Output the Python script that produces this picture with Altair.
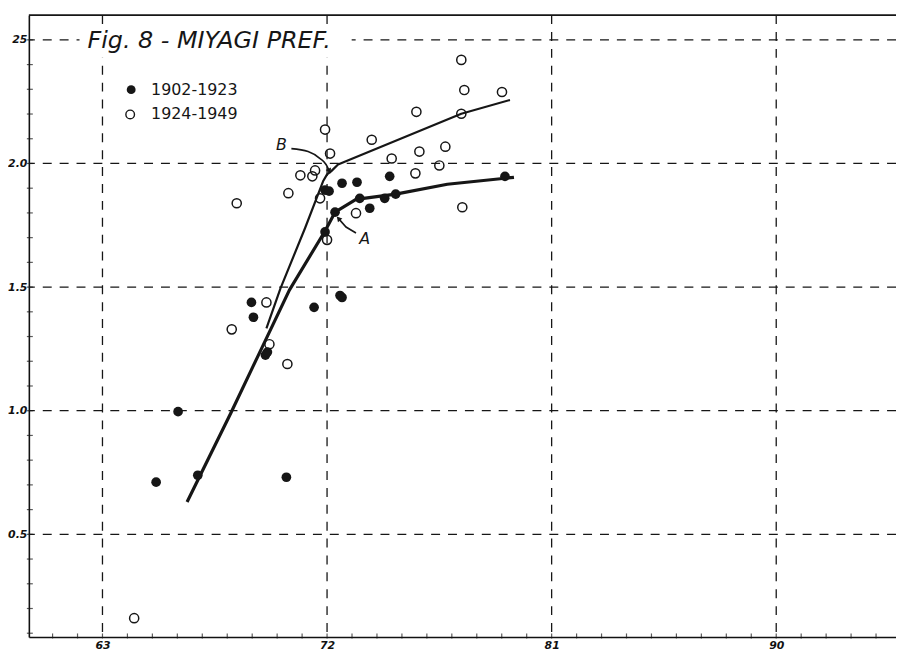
import altair as alt
import pandas as pd

# ---- data ----
filled_x = [65.15, 66.03, 66.82, 70.37, 68.97, 69.05, 69.53, 69.61, 71.48, 72.52, 72.60,
            71.92, 72.32, 71.92, 72.08, 72.60, 73.20, 74.51, 73.31, 74.31, 74.75, 73.71, 79.13]
filled_y = [0.711, 0.996, 0.739, 0.731, 1.438, 1.378, 1.225, 1.237, 1.418, 1.466, 1.458,
            1.723, 1.803, 1.892, 1.888, 1.920, 1.924, 1.948, 1.859, 1.859, 1.876, 1.819, 1.948]

open_x = [64.27, 68.18, 68.38, 69.57, 69.69, 70.41, 70.45, 70.93, 71.41, 71.52, 71.72, 71.92,
          72.12, 72.00, 73.16, 73.79, 74.59, 75.58, 75.70, 75.54, 76.50, 76.74, 77.38, 77.50,
          77.38, 77.42, 79.01]
open_y = [0.161, 1.329, 1.839, 1.438, 1.269, 1.189, 1.880, 1.952, 1.948, 1.972, 1.859, 2.137,
          2.040, 1.691, 1.799, 2.096, 2.020, 2.209, 2.048, 1.960, 1.992, 2.068, 2.419, 2.297,
          2.201, 1.823, 2.289]

lineA_x = [66.39, 68.14, 70.49, 71.92, 72.32, 73.16, 74.75, 76.82, 79.49]
lineA_y = [0.631, 0.990, 1.488, 1.727, 1.803, 1.855, 1.876, 1.916, 1.944]

lineB_x = [69.57, 70.13, 71.12, 71.84, 72.00, 72.16, 72.44, 77.38, 79.33]
lineB_y = [1.333, 1.494, 1.739, 1.928, 1.956, 1.968, 1.996, 2.201, 2.257]

arrowB_x = [70.57, 71.24, 71.72, 71.96, 72.08]
arrowB_y = [2.060, 2.048, 2.020, 1.996, 1.972]
arrowA_x = [73.16, 72.76, 72.48]
arrowA_y = [1.719, 1.743, 1.775]

x_grid = [63, 72, 81, 90]
y_grid = [0.5, 1.0, 1.5, 2.0, 2.5]
x_minor = list(range(61, 95))
y_minor = [round(0.1 * i, 1) for i in range(1, 26)]

series_labels = ["1902-1923", "1924-1949"]
title_text = "Fig. 8 - MIYAGI  PREF."

# ---- scales / axes ----
W, H = 873, 626
xs = alt.Scale(domain=[60.05, 94.8], nice=False, zero=False)
ys = alt.Scale(domain=[0.085, 2.6], nice=False, zero=False)
lab = dict(labelFont="DejaVu Sans", labelFontSize=11, labelFontStyle="italic",
           labelFontWeight="bold", labelColor="#111")
x_axis = alt.Axis(values=x_grid, grid=False, ticks=False, domain=True, domainColor="#111",
                  domainWidth=1.6, labelPadding=3, title=None, **lab)
y_axis = alt.Axis(values=y_grid, grid=False, ticks=False, domain=True, domainColor="#111",
                  domainWidth=1.6, labelPadding=2, title=None,
                  labelExpr="datum.value == 2.5 ? '25' : format(datum.value, '.1f')", **lab)


def X(f):
    return alt.X(f"{f}:Q", scale=xs, axis=x_axis, title=None)


def Y(f):
    return alt.Y(f"{f}:Q", scale=ys, axis=y_axis, title=None)


one = pd.DataFrame({"k": [0]})
dash = [9, 8]
ink = "#161616"

vgrid = alt.Chart(pd.DataFrame({"gx": x_grid})).mark_rule(
    strokeDash=dash, color=ink, strokeWidth=1.3).encode(x=X("gx"))
hgrid = alt.Chart(pd.DataFrame({"gy": y_grid})).mark_rule(
    strokeDash=dash, color=ink, strokeWidth=1.3).encode(y=Y("gy"))

mask = alt.Chart(one).mark_rect(color="white").encode(
    x=alt.value(51), x2=alt.value(325), y=alt.value(11), y2=alt.value(43))
title = alt.Chart(one).mark_text(
    align="left", baseline="middle", font="DejaVu Sans", fontSize=24,
    fontStyle="italic", color=ink).encode(
    x=alt.value(59), y=alt.value(26), text=alt.value(title_text))

topframe = alt.Chart(one).mark_rule(color=ink, strokeWidth=1.6).encode(
    x=alt.value(0), x2=alt.value(W), y=alt.value(0))

xticks = alt.Chart(pd.DataFrame({"tx": x_minor})).mark_tick(
    color=ink, size=5, thickness=1.2).encode(x=X("tx"), y=alt.value(H - 1))
yticks = alt.Chart(pd.DataFrame({"ty": y_minor})).mark_tick(
    color=ink, size=6, thickness=1.2, orient="horizontal").encode(y=Y("ty"), x=alt.value(1))

lineA = alt.Chart(pd.DataFrame({"ax": lineA_x, "ay": lineA_y})).mark_line(
    color=ink, strokeWidth=3.2, strokeJoin="round").encode(x=X("ax"), y=Y("ay"), order="ax:Q")
lineB = alt.Chart(pd.DataFrame({"bx": lineB_x, "by": lineB_y})).mark_line(
    color=ink, strokeWidth=2.2, strokeJoin="round").encode(x=X("bx"), y=Y("by"), order="bx:Q")

arrB = alt.Chart(pd.DataFrame({"px": arrowB_x, "py": arrowB_y, "o": range(len(arrowB_x))})).mark_line(
    color=ink, strokeWidth=1.6, interpolate="monotone").encode(x=X("px"), y=Y("py"), order="o:Q")
arrA = alt.Chart(pd.DataFrame({"qx": arrowA_x, "qy": arrowA_y, "o": range(len(arrowA_x))})).mark_line(
    color=ink, strokeWidth=1.6).encode(x=X("qx"), y=Y("qy"), order="o:Q")
headB = alt.Chart(pd.DataFrame({"hx": [arrowB_x[-1]], "hy": [arrowB_y[-1]]})).mark_point(
    shape="triangle", filled=True, color=ink, size=35, angle=155, opacity=1).encode(x=X("hx"), y=Y("hy"))
headA = alt.Chart(pd.DataFrame({"hx": [arrowA_x[-1]], "hy": [arrowA_y[-1]]})).mark_point(
    shape="triangle", filled=True, color=ink, size=35, angle=318, opacity=1).encode(x=X("hx"), y=Y("hy"))

labAB = alt.Chart(pd.DataFrame({"lx": [70.17, 73.51], "ly": [2.076, 1.695], "t": ["B", "A"]})).mark_text(
    font="DejaVu Sans", fontSize=16, fontStyle="italic", color=ink).encode(
    x=X("lx"), y=Y("ly"), text="t:N")

pf = alt.Chart(pd.DataFrame({"fx": filled_x, "fy": filled_y})).mark_point(
    shape="circle", filled=True, color=ink, size=95, opacity=1).encode(x=X("fx"), y=Y("fy"))
po = alt.Chart(pd.DataFrame({"ox": open_x, "oy": open_y})).mark_point(
    shape="circle", filled=False, color=ink, size=85, strokeWidth=1.5, opacity=1).encode(
    x=X("ox"), y=Y("oy"))

leg_f = alt.Chart(one).mark_point(shape="circle", filled=True, color=ink, size=80, opacity=1).encode(
    x=alt.value(103), y=alt.value(75))
leg_o = alt.Chart(one).mark_point(shape="circle", filled=False, color=ink, size=75,
                                  strokeWidth=1.4, opacity=1).encode(x=alt.value(102), y=alt.value(100))
leg_t1 = alt.Chart(one).mark_text(align="left", baseline="middle", font="DejaVu Sans",
                                  fontSize=16, color=ink).encode(
    x=alt.value(123), y=alt.value(75), text=alt.value(series_labels[0]))
leg_t2 = alt.Chart(one).mark_text(align="left", baseline="middle", font="DejaVu Sans",
                                  fontSize=16, color=ink).encode(
    x=alt.value(123), y=alt.value(100), text=alt.value(series_labels[1]))

chart = alt.layer(
    vgrid, hgrid, mask, title, topframe, xticks, yticks,
    lineA, lineB, arrB, arrA, headB, headA, labAB, pf, po,
    leg_f, leg_o, leg_t1, leg_t2
).properties(
    width=W, height=H,
    autosize=alt.AutoSizeParams(type="none"),
    padding={"left": 21, "top": 5, "right": 0, "bottom": 15},
    background="white",
).configure_view(stroke=None)

chart.save("out.html", embed_options={"renderer": "svg", "actions": False})
